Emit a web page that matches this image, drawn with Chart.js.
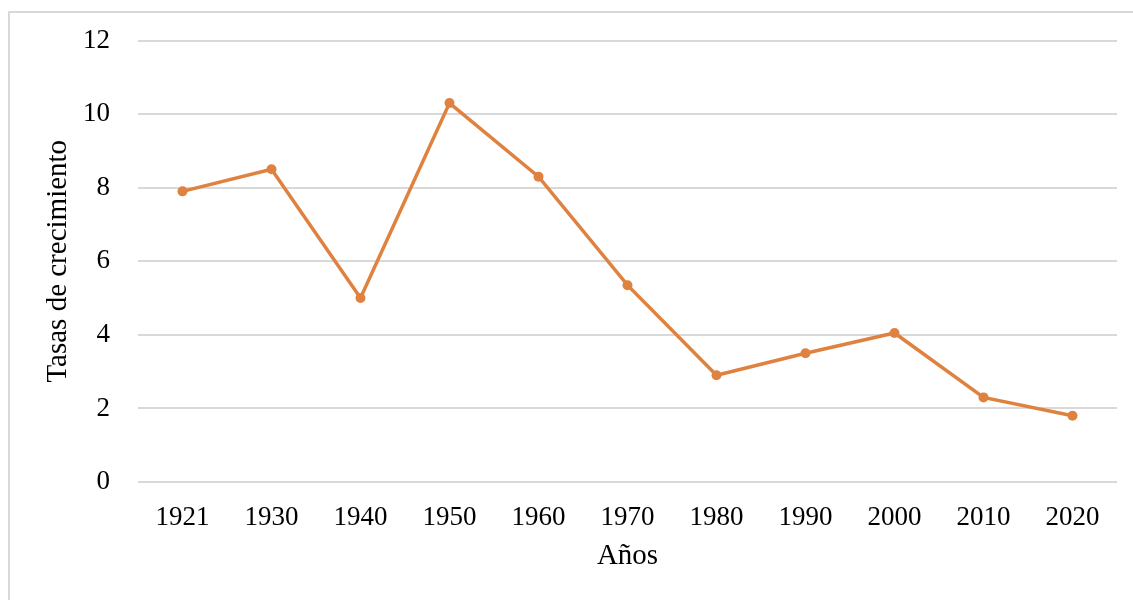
<!DOCTYPE html>
<html>
<head>
<meta charset="utf-8">
<script src="https://cdn.jsdelivr.net/npm/chart.js@4"></script>
<style>
  html, body { margin: 0; padding: 0; background: #fff; overflow: hidden; }
  #marco { position: absolute; left: 8px; top: 11px; width: 1140px; height: 600px; border: 2px solid #d9d9d9; box-sizing: border-box; }
  #grafico { position: absolute; left: 0; top: 0; }
</style>
</head>
<body>
<div id="marco"></div>
<canvas id="grafico" width="1133" height="600"></canvas>
<script>
const anios = ["1921", "1930", "1940", "1950", "1960", "1970", "1980", "1990", "2000", "2010", "2020"];
const tasas = [7.9, 8.5, 5.0, 10.3, 8.3, 5.35, 2.9, 3.5, 4.05, 2.3, 1.8];
const ticksY = [0, 2, 4, 6, 8, 10, 12];

const naranja = "#e0823f";
const familia = "'Liberation Serif', 'Times New Roman', serif";
const fuenteTicks = { family: familia, size: 27 };
const fuenteTitulo = { family: familia, size: 29 };

const grafico = new Chart(document.getElementById("grafico"), {
  type: 'line',
  data: {
    labels: anios,
    datasets: [{
      label: 'Tasas de crecimiento',
      data: tasas,
      borderColor: naranja,
      backgroundColor: naranja,
      borderWidth: 3.5,
      pointRadius: 5,
      pointBorderWidth: 0,
      tension: 0
    }]
  },
  options: {
    responsive: false,
    animation: false,
    layout: { padding: { left: 38, right: 16, top: 40.5, bottom: 20 } },
    plugins: { legend: { display: false }, tooltip: { enabled: false } },
    scales: {
      x: {
        offset: true,
        grid: { display: false },
        border: { display: false },
        ticks: { color: '#000', font: fuenteTicks, padding: 12, maxRotation: 0 },
        title: { display: true, text: 'Años', color: '#000', font: fuenteTitulo, padding: { top: 0, bottom: 6 } },
        afterFit: (escala) => { escala.height = 98; }
      },
      y: {
        min: 0,
        max: 12,
        afterBuildTicks: (escala) => { escala.ticks = ticksY.map(v => ({ value: v })); },
        grid: { color: '#d9d9d9', lineWidth: 2, drawTicks: false },
        border: { display: false },
        ticks: { color: '#000', font: fuenteTicks, padding: 28 },
        title: { display: true, text: 'Tasas de crecimiento', color: '#000', font: fuenteTitulo, padding: { top: 3, bottom: 0 } },
        afterFit: (escala) => { escala.width = 100; escala.paddingTop = 0; }
      }
    }
  }
});
</script>
</body>
</html>
